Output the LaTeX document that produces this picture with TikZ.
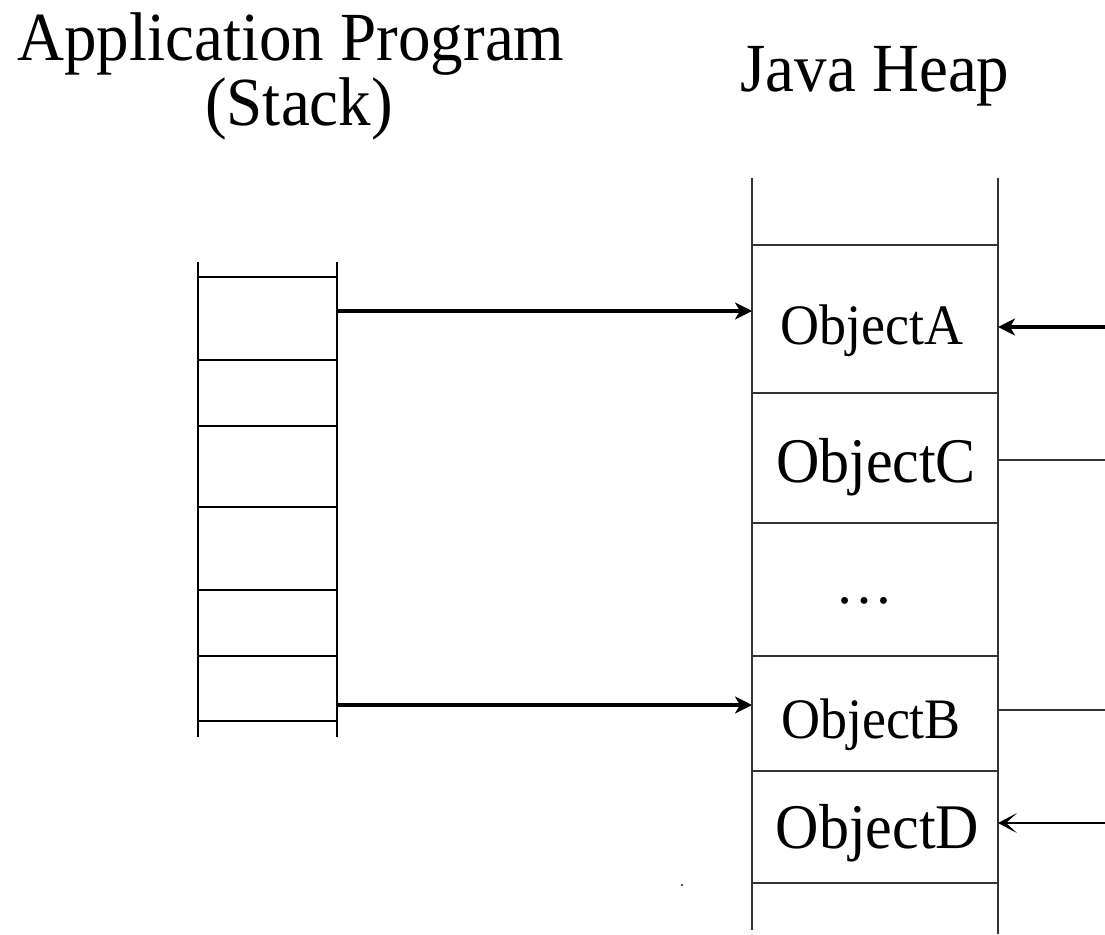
\documentclass[tikz,border=0pt]{standalone}
\usepackage{graphicx}
\usepackage{fontspec}
\setmainfont{Liberation Serif}
\usetikzlibrary{arrows.meta}
\newcommand{\tallx}[1]{\scalebox{1}[1.06]{#1}}
\begin{document}
\begin{tikzpicture}[x=1pt,y=-1pt,
  stackline/.style={line width=1.8pt, black},
  heapline/.style={line width=2pt, black!80},
  ptr/.style={line width=4pt, black, -{Stealth[length=17pt,width=17pt,inset=5pt]}},
  thinptr/.style={line width=2pt, black, -{Stealth[length=19pt,width=20pt,inset=11pt,line width=1pt]}},
  title/.style={anchor=base, font=\fontsize{65}{70}\selectfont, inner sep=0pt},
  obj/.style={anchor=base, inner sep=0pt}]
\useasboundingbox (0,0) rectangle (1105,934);
% stack
\draw[stackline] (198,262) -- (198,737) (337,262) -- (337,737);
\foreach \y in {277,360,426,507,590,656,721} \draw[stackline] (198,\y) -- (337,\y);
% heap
\draw[heapline] (752,178) -- (752,930) (998,178) -- (998,934);
\foreach \y in {245,393,523,656,771,883} \draw[heapline] (752,\y) -- (998,\y);
% titles
\node[title] (tapp) at (291,60) {\tallx{Application Program}};
\node[title] (tstack) at (299,125) {\tallx{(Stack)}};
\node[title] (theap) at (875,91) {\tallx{Java Heap}};
% objects
\node[obj, font=\fontsize{54}{60}\selectfont] (oA) at (872,344) {\tallx{ObjectA}};
\node[obj, font=\fontsize{60}{66}\selectfont] (oC) at (876,482) {\tallx{ObjectC}};
\node[obj, font=\fontsize{58}{64}\selectfont] (odots) at (864,603) {\dots};
\node[obj, font=\fontsize{54}{60}\selectfont] (oB) at (871,738) {\tallx{ObjectB}};
\node[obj, font=\fontsize{60}{66}\selectfont] (oD) at (877.5,848) {\tallx{ObjectD}};
% connector ends
\coordinate (s1) at (337,311);
\coordinate (s2) at (337,705);
\coordinate (h1) at (752,311);
\coordinate (h2) at (752,705);
\coordinate (rA) at (1105,327);
\coordinate (eA) at (998,327);
\coordinate (eC) at (998,460);
\coordinate (rC) at (1105,460);
\coordinate (eB) at (998,710);
\coordinate (rB) at (1105,710);
\coordinate (rD) at (1105,823);
\coordinate (eD) at (998,823);
% connectors
\draw[ptr] (s1) -- (h1);
\draw[ptr] (s2) -- (h2);
\draw[ptr] (rA) -- (eA);
\draw[heapline] (eC) -- (rC);
\draw[heapline] (eB) -- (rB);
\draw[thinptr] (rD) -- (eD);
% stray dot
\fill[black!70] (682,885) circle (1.3);
\end{tikzpicture}
\end{document}
